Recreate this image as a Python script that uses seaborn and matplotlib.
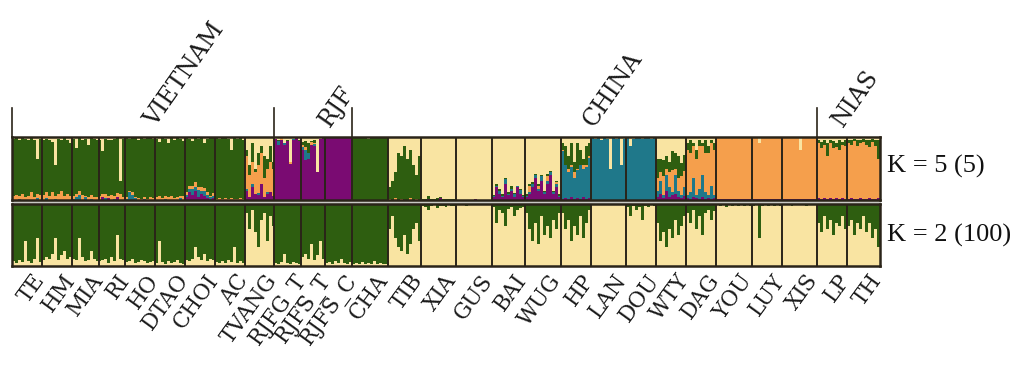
import numpy as np
import pandas as pd
import matplotlib
matplotlib.use("Agg")
import matplotlib.pyplot as plt
import seaborn as sns
from matplotlib.patches import Rectangle
from matplotlib.lines import Line2D
from matplotlib.transforms import blended_transform_factory

# ---------------- data ----------------
POPS = ["TE", "HM", "MIA", "RI", "HO", "DTAO", "CHOI", "AC", "TVANG", "RJFG_T",
        "RJFS_T", "RJFS_C", "CHA", "TIB", "XIA", "GUS", "BAI", "WUG", "HP", "LAN",
        "DOU", "WTY", "DAG", "YOU", "LUY", "XIS", "LP", "TH"]
GROUPS = ["VIETNAM", "RJF", "CHINA", "NIAS"]
GROUP_FIRST_POP = ["TE", "RJFG_T", "CHA", "LP"]
ROW_LABELS = ["K = 5 (5)", "K = 2 (100)"]

# K = 2 : share of the pale-yellow cluster per individual (rest is green)
K2_YELLOW = [
    [0.08, 0.05, 0.10, 0.06, 0.40, 0.08, 0.05, 0.12, 0.45, 0.07],          # TE
    [0.10, 0.15, 0.12, 0.20, 0.45, 0.10, 0.18, 0.25, 0.12, 0.15],          # HM
    [0.12, 0.10, 0.45, 0.15, 0.08, 0.10, 0.25, 0.12, 0.08],                # MIA
    [0.08, 0.10, 0.12, 0.05, 0.15, 0.08, 0.50, 0.12, 0.10],                # RI
    [0.06, 0.08, 0.12, 0.05, 0.06, 0.10, 0.08, 0.05, 0.06, 0.08],          # HO
    [0.05, 0.40, 0.06, 0.04, 0.08, 0.05, 0.06, 0.10, 0.05, 0.04],          # DTAO
    [0.10, 0.08, 0.12, 0.30, 0.15, 0.10, 0.20, 0.08, 0.12, 0.10],          # CHOI
    [0.06, 0.05, 0.08, 0.05, 0.10, 0.06, 0.30, 0.05, 0.08, 0.05],          # AC
    [0.85, 0.60, 0.90, 0.55, 0.30, 0.75, 0.85, 0.40, 0.80, 0.65],          # TVANG
    [0.05, 0.04, 0.06, 0.20, 0.05, 0.04, 0.06, 0.05, 0.04],                # RJFG_T
    [0.15, 0.20, 0.12, 0.35, 0.10, 0.18, 0.40, 0.12],                      # RJFS_T
    [0.05, 0.06, 0.04, 0.08, 0.05, 0.12, 0.05, 0.04, 0.06],                # RJFS_C
    [0.04, 0.05, 0.03, 0.06, 0.04, 0.05, 0.03, 0.08, 0.04, 0.05, 0.03, 0.04],  # CHA
    [0.60, 0.80, 0.45, 0.30, 0.25, 0.50, 0.20, 0.35, 0.60, 0.70, 0.40],    # TIB
    [0.97, 0.95, 0.90, 0.96, 0.98, 0.93, 0.97, 0.96, 0.95, 0.98, 0.97, 0.96],  # XIA
    [0.99, 0.98, 0.99, 0.97, 0.99, 0.98, 0.99, 0.99, 0.98, 0.99, 0.98, 0.99],  # GUS
    [0.95, 0.70, 0.90, 0.85, 0.65, 0.92, 0.95, 0.80, 0.90, 0.93, 0.95],    # BAI
    [0.85, 0.60, 0.40, 0.70, 0.35, 0.80, 0.50, 0.65, 0.45, 0.75, 0.60, 0.85],  # WUG
    [0.85, 0.60, 0.75, 0.40, 0.65, 0.50, 0.80, 0.45, 0.70, 0.90],          # HP
    [0.99, 0.99, 0.98, 0.99, 0.99, 0.99, 0.98, 0.99, 0.99, 0.99, 0.98, 0.99],  # LAN
    [0.95, 0.80, 0.97, 0.90, 0.95, 0.75, 0.97, 0.95, 0.98, 0.96],          # DOU
    [0.70, 0.40, 0.55, 0.30, 0.60, 0.45, 0.75, 0.50, 0.65, 0.80],          # WTY
    [0.85, 0.70, 0.90, 0.60, 0.80, 0.50, 0.85, 0.90, 0.75, 0.88],          # DAG
    [0.98, 0.97, 0.98, 0.95, 0.98, 0.97, 0.98, 0.96, 0.98, 0.97, 0.98, 0.97],  # YOU
    [0.97, 0.98, 0.45, 0.97, 0.98, 0.96, 0.98, 0.97, 0.98, 0.97],          # LUY
    [0.98, 0.99, 0.98, 0.97, 0.98, 0.99, 0.98, 0.98, 0.97, 0.99, 0.98, 0.98],  # XIS
    [0.70, 0.55, 0.80, 0.60, 0.75, 0.50, 0.70, 0.65, 0.80, 0.60],          # LP
    [0.65, 0.75, 0.50, 0.70, 0.60, 0.80, 0.55, 0.70, 0.45, 0.60, 0.30],    # TH
]

# K = 5 : main cluster of each population (its share = 1 - other shares)
K5_MAIN = ["green", "green", "green", "green", "green", "green", "green", "green",
           "orange", "purple", "purple", "purple", "green", "green",
           "yellow", "yellow", "yellow", "yellow", "teal", "teal", "teal",
           "yellow", "orange", "orange", "orange", "orange", "orange", "orange"]

K5_PURPLE = [
    [], [], [],
    [0, 0.04, 0, 0.03, 0, 0, 0.05, 0, 0],
    [], [],
    [0.05, 0.12, 0.08, 0.15, 0.04, 0.10, 0.06, 0.03, 0.02, 0.03],
    [],
    [0.15, 0.05, 0.20, 0.10, 0.08, 0.25, 0.05, 0.10, 0.12, 0.06],
    [], [], [], [], [],
    [0, 0, 0.02, 0, 0, 0, 0.03, 0, 0, 0, 0, 0],
    [0, 0, 0, 0, 0, 0, 0.02, 0, 0, 0, 0, 0],
    [0.05, 0.20, 0.10, 0.05, 0.25, 0.08, 0.15, 0.05, 0.20, 0.10, 0.05],
    [0.05, 0.10, 0.20, 0.35, 0.15, 0.30, 0.10, 0.25, 0.40, 0.10, 0.20, 0.05],
    [0.02, 0.03, 0.02, 0.05, 0.02, 0.03, 0.02, 0.04, 0.02, 0.03],
    [], [],
    [0.05, 0.10, 0.03, 0.15, 0.05, 0.08, 0.10, 0.05, 0.03, 0.06],
    [0.03, 0.02, 0.05, 0.03, 0.02, 0.04, 0.02, 0.03, 0.02, 0.03],
    [0.01, 0.01, 0.02, 0.01, 0.01, 0.01, 0.02, 0.01, 0.01, 0.01, 0.02, 0.01],
    [0.01, 0.01, 0.01, 0.02, 0.01, 0.01, 0.01, 0.01, 0.02, 0.01],
    [0.01, 0.01, 0.01, 0.01, 0.02, 0.01, 0.01, 0.01, 0.01, 0.02, 0.01, 0.01],
    [0.03, 0.02, 0.03, 0.02, 0.03, 0.02, 0.03, 0.02, 0.03, 0.02],
    [0.02, 0.03, 0.02, 0.02, 0.03, 0.02, 0.02, 0.03, 0.02, 0.02, 0.03],
]

K5_TEAL = [
    [0, 0, 0.02, 0, 0, 0, 0, 0, 0.03, 0],
    [0, 0.03, 0, 0, 0.02, 0, 0, 0, 0, 0],
    [0.02, 0.05, 0.08, 0, 0.04, 0, 0.02, 0, 0],
    [0, 0, 0.03, 0, 0, 0.02, 0, 0, 0],
    [0.02, 0.12, 0.08, 0.03, 0, 0, 0.02, 0, 0, 0],
    [0, 0, 0, 0.02, 0, 0, 0, 0, 0.03, 0],
    [0.03, 0.05, 0.10, 0.06, 0.12, 0.04, 0.08, 0.05, 0.02, 0.03],
    [],
    [0.02, 0, 0.05, 0, 0.03, 0, 0, 0.02, 0, 0],
    [0, 0.05, 0, 0.03, 0, 0, 0.02, 0, 0],
    [0.05, 0.15, 0.10, 0, 0.03, 0, 0, 0],
    [], [], [], [], [],
    [0.02, 0.03, 0.05, 0.02, 0.08, 0.02, 0.03, 0.04, 0.02, 0.06, 0.02],
    [0.02, 0.03, 0.05, 0.05, 0.02, 0.08, 0.03, 0.05, 0.04, 0.02, 0.05, 0.02],
    [], [], [],
    [0.10, 0.20, 0.05, 0.25, 0.15, 0.05, 0.30, 0.10, 0.05, 0.15],
    [0.05, 0.10, 0.30, 0.05, 0.15, 0.35, 0.10, 0.05, 0.20, 0.05],
    [], [], [], [], [],
]

K5_ORANGE = [
    [0.06, 0.08, 0.05, 0.10, 0.04, 0.07, 0.12, 0.05, 0.06, 0.08],
    [0.08, 0.10, 0.06, 0.12, 0.05, 0.10, 0.14, 0.07, 0.09, 0.06],
    [0.05, 0.04, 0.06, 0.08, 0.03, 0.05, 0.06, 0.04, 0.05],
    [0.06, 0.05, 0.07, 0.04, 0.08, 0.05, 0.06, 0.10, 0.05],
    [0.03, 0.03, 0.04, 0.02, 0.03, 0.02, 0.03, 0.02, 0.04, 0.03],
    [0.04, 0.06, 0.03, 0.05, 0.04, 0.07, 0.03, 0.05, 0.04, 0.06],
    [0.04, 0.06, 0.05, 0.08, 0.04, 0.07, 0.05, 0.04, 0.03, 0.05],
    [0.02, 0.03, 0.02, 0.03, 0.02, 0.03, 0.02, 0.02, 0.03, 0.02],
    [],
    [0, 0, 0.02, 0, 0, 0.03, 0, 0, 0],
    [0.03, 0.05, 0, 0.05, 0.02, 0, 0, 0],
    [], [],
    [0.02, 0, 0.03, 0, 0.02, 0, 0, 0.03, 0, 0.02, 0],
    [], [], [],
    [0, 0.10, 0, 0, 0.05, 0, 0, 0.08, 0, 0, 0.03, 0],
    [0.03, 0, 0.05, 0.02, 0.10, 0.03, 0, 0.05, 0.02, 0.03],
    [], [],
    [0.20, 0.15, 0.30, 0.10, 0.25, 0.35, 0.10, 0.20, 0.30, 0.25],
    [], [], [], [], [], [],
]

K5_GREEN = [
    [], [], [], [], [], [], [], [],
    [0.10, 0.15, 0.30, 0.05, 0.20, 0.10, 0.35, 0.15, 0.25, 0.10],
    [0, 0.02, 0, 0, 0.03, 0, 0, 0, 0.02],
    [0.05, 0.10, 0.15, 0.02, 0.05, 0, 0, 0],
    [], [], [],
    [0.02, 0.01, 0.05, 0.02, 0.01, 0.03, 0.02, 0.01, 0.02, 0.01, 0.02, 0.01],
    [],
    [0.01, 0.02, 0.03, 0.02, 0.02, 0.02, 0.05, 0.02, 0.01, 0.02, 0.01],
    [0.02, 0.02, 0.03, 0.02, 0.03, 0.02, 0.02, 0.03, 0.02, 0.03, 0.02, 0.02],
    [0.10, 0.30, 0.20, 0.35, 0.15, 0.40, 0.25, 0.10, 0.30, 0.20],
    [], [],
    [0.30, 0.20, 0.25, 0.20, 0.15, 0.30, 0.25, 0.35, 0.20, 0.25],
    [0.10, 0.20, 0.05, 0.15, 0.10, 0.05, 0.20, 0.10, 0.05, 0.10],
    [], [], [],
    [0.05, 0.10, 0.08, 0.20, 0.05, 0.12, 0.06, 0.15, 0.05, 0.10],
    [0.05, 0.08, 0.04, 0.10, 0.06, 0.05, 0.08, 0.12, 0.05, 0.10, 0.30],
]

K5_YELLOW = [
    [0.03, 0.02, 0.05, 0.02, 0.03, 0.04, 0.02, 0.05, 0.35, 0.03],
    [0.04, 0.03, 0.05, 0.08, 0.45, 0.03, 0.04, 0.02, 0.05, 0.10],
    [0.03, 0.18, 0.02, 0.04, 0.03, 0.12, 0.02, 0.03, 0.05],
    [0.04, 0.22, 0.03, 0.05, 0.04, 0.03, 0.02, 0.70, 0.03],
    [0.02, 0.03, 0.02, 0.02, 0.04, 0.02, 0.03, 0.02, 0.02, 0.03],
    [0.03, 0.08, 0.02, 0.03, 0.10, 0.02, 0.05, 0.02, 0.03, 0.06],
    [0.02, 0.03, 0.06, 0.02, 0.03, 0.02, 0.10, 0.03, 0.02, 0.02],
    [0.02, 0.03, 0.02, 0.02, 0.03, 0.20, 0.02, 0.03, 0.02, 0.04],
    [0.20, 0.45, 0.10, 0.50, 0.25, 0.15, 0.30, 0.35, 0.15, 0.40],
    [0.03, 0.05, 0.02, 0.10, 0.04, 0.40, 0.03, 0.02, 0.05],
    [0.08, 0.06, 0.10, 0.06, 0.04, 0.55, 0.03, 0.02],
    [0.01, 0.02, 0.01, 0.01, 0.02, 0.01, 0.01, 0.02, 0.01],
    [0.02, 0.01, 0.02, 0.01, 0.02, 0.03, 0.01, 0.02, 0.01, 0.02, 0.01, 0.02],
    [0.80, 0.70, 0.55, 0.25, 0.30, 0.15, 0.35, 0.20, 0.45, 0.60, 0.30],
    [], [], [], [],
    [0.10, 0.15, 0.30, 0.10, 0.40, 0.10, 0.20, 0.35, 0.15, 0.10],
    [0.02, 0.03, 0.02, 0.04, 0.02, 0.03, 0.50, 0.02, 0.03, 0.02, 0.45, 0.03],
    [0.02, 0.15, 0.03, 0.02, 0.02, 0.03, 0.02, 0.02, 0.03, 0.02],
    [],
    [0.10, 0.05, 0.10, 0.20, 0.05, 0.10, 0.05, 0.15, 0.05, 0.10],
    [0.01, 0.02, 0.01, 0.01, 0.02, 0.01, 0.02, 0.01, 0.01, 0.02, 0.01, 0.01],
    [0.01, 0.02, 0.10, 0.01, 0.02, 0.01, 0.01, 0.02, 0.01, 0.01],
    [0.01, 0.02, 0.01, 0.01, 0.02, 0.01, 0.20, 0.01, 0.02, 0.01, 0.01, 0.02],
    [0.05, 0.08, 0.05, 0.10, 0.05, 0.06, 0.10, 0.05, 0.08, 0.05],
    [0.04, 0.05, 0.03, 0.05, 0.04, 0.03, 0.05, 0.04, 0.03, 0.05, 0.05],
]

# ---------------- styling ----------------
COLORS = {"purple": "#7a0b72", "teal": "#1f788a", "orange": "#f59f4c",
          "green": "#2e5e10", "yellow": "#f9e4a2"}
ORDER = ["purple", "teal", "orange", "green", "yellow"]   # bottom -> top
DARK = "#2a2419"

K5_TABLE = {"purple": K5_PURPLE, "teal": K5_TEAL, "orange": K5_ORANGE,
            "green": K5_GREEN, "yellow": K5_YELLOW}

sizes = [len(v) for v in K2_YELLOW]
N = sum(sizes)
bounds = np.concatenate([[0], np.cumsum(sizes)])

# K=5 long table
rows5 = []
ind = 0
for p, n in enumerate(sizes):
    shares = {}
    for c in ORDER:
        if c == K5_MAIN[p]:
            continue
        vals = K5_TABLE[c][p]
        shares[c] = np.array(vals if len(vals) else [0.0] * n, dtype=float)
    other = sum(shares.values())
    shares[K5_MAIN[p]] = np.clip(1 - other, 0, 1)
    for j in range(n):
        for c in ORDER:
            rows5.append((ind + j, c, shares[c][j]))
    ind += n
df5 = pd.DataFrame(rows5, columns=["ind", "cluster", "q"])
df5["cum"] = df5.groupby("ind")["q"].cumsum()

rows2 = []
ind = 0
for p, n in enumerate(sizes):
    for j in range(n):
        y = K2_YELLOW[p][j]
        rows2.append((ind + j, "yellow", y, y))
        rows2.append((ind + j, "green", 1 - y, 1.0))
    ind += n
df2 = pd.DataFrame(rows2, columns=["ind", "cluster", "q", "cum"])

W, H = 1014, 370
fig = plt.figure(figsize=(W / 100, H / 100), dpi=100)


def rect(x0, y0, x1, y1):
    return [x0 / W, 1 - y1 / H, (x1 - x0) / W, (y1 - y0) / H]


ax1 = fig.add_axes(rect(12, 137, 880, 200))
ax2 = fig.add_axes(rect(12, 204, 880, 266))
fig.add_artist(Rectangle((12 / W, 1 - 204.5 / H), 868 / W, 5 / H,
                         transform=fig.transFigure, color="#c9c9c4", zorder=-1))

for ax, df, order in ((ax1, df5, ORDER), (ax2, df2, ["yellow", "green"])):
    for c in order[::-1]:
        sub = df[df["cluster"] == c]
        sns.barplot(data=sub, x="ind", y="cum", color=COLORS[c], width=1,
                    native_scale=True, errorbar=None, saturation=1,
                    linewidth=0, antialiased=False, ax=ax)
    ax.set_xlim(-0.5, N - 0.5)
    ax.set_ylim(0, 1)
    ax.set_xticks([])
    ax.set_yticks([])
    ax.set_xlabel("")
    ax.set_ylabel("")
    for b in bounds[1:-1]:
        ax.axvline(b - 0.5, color=DARK, lw=1.4)
    for s in ax.spines.values():
        s.set_color(DARK)
        s.set_linewidth(1.8)

# population labels
for p, name in enumerate(POPS):
    cx = (bounds[p] + bounds[p + 1] - 1) / 2
    ax2.annotate(name, xy=(cx, 0), xycoords=("data", "axes fraction"),
                 xytext=(5, -4), textcoords="offset pixels", rotation=54,
                 ha="right", va="top", rotation_mode="anchor",
                 fontsize=15.5, family="DejaVu Serif", color="#1a1a1a")

# group labels and bracket lines
tr = blended_transform_factory(ax1.transData, ax1.transAxes)
group_bounds = [bounds[POPS.index(g)] for g in GROUP_FIRST_POP] + [N]
label_shift = [4.0, 5.5, 3.0, -2.0]
for k, g in enumerate(GROUPS):
    x0 = group_bounds[k] - 0.5
    ax1.add_line(Line2D([x0, x0], [1, 1.46], transform=tr, color=DARK,
                        lw=1.2, clip_on=False))
    cx = (group_bounds[k] + group_bounds[k + 1] - 1) / 2 + label_shift[k]
    ax1.annotate(g, xy=(cx, 1), xycoords=("data", "axes fraction"),
                 xytext=(0, 9), textcoords="offset pixels", rotation=55,
                 ha="left", va="baseline", rotation_mode="anchor",
                 fontsize=17, family="DejaVu Serif", color="#1a1a1a")

fig.text(887 / W, 1 - 166 / H, ROW_LABELS[0], fontsize=19,
         family="Liberation Serif", va="center", ha="left", color="#111111")
fig.text(887 / W, 1 - 235 / H, ROW_LABELS[1], fontsize=19,
         family="Liberation Serif", va="center", ha="left", color="#111111")

fig.savefig("out.png", dpi=100, facecolor="white")
